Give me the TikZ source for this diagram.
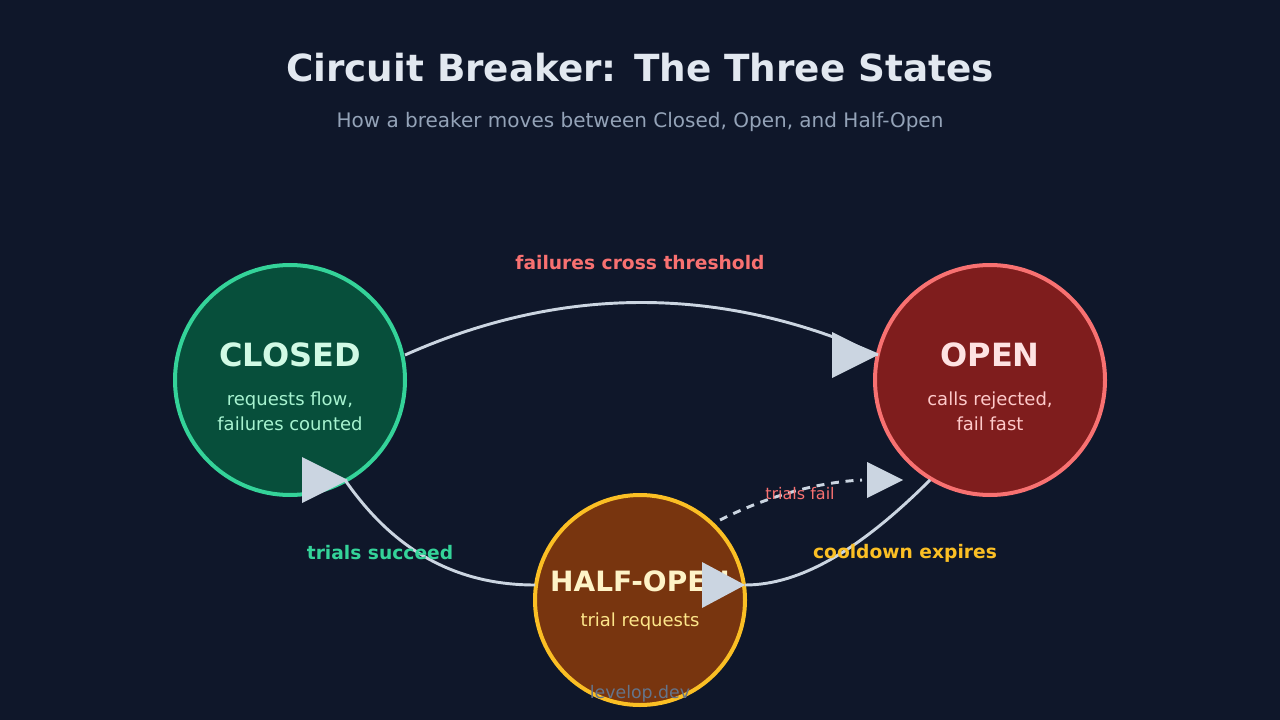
\documentclass[tikz,border=0pt]{standalone}
\usepackage{fontspec}
\setmainfont{DejaVu Sans}
\begin{document}
\begin{tikzpicture}[x=0.75pt,y=-0.75pt,
  st/.style={circle,minimum size=#1,inner sep=0pt,line width=3pt},
  conn/.style={draw=cbd,line width=2.2pt},
  tip/.style={fill=cbd},
  lbl/.style={font=\bfseries\fontsize{14}{16}\selectfont}]
\definecolor{bg}{HTML}{0F172A}
\definecolor{cbd}{HTML}{CBD5E1}
\fill[bg] (0,0) rectangle (1280,720);
\useasboundingbox (0,0) rectangle (1280,720);
\node[text=white!88!blue, font=\bfseries\fontsize{28}{32}\selectfont, text={rgb,255:red,226;green,232;blue,240}] (title) at (640,68) {Circuit Breaker: The Three States};
\node[font=\fontsize{15}{18}\selectfont, text={rgb,255:red,148;green,163;blue,184}] (sub) at (640,122) {How a breaker moves between Closed, Open, and Half-Open};
\definecolor{cf}{HTML}{074F3B}\definecolor{cb}{HTML}{34D399}
\definecolor{of}{HTML}{7F1D1D}\definecolor{ob}{HTML}{F87171}
\definecolor{hf}{HTML}{78350F}\definecolor{hb}{HTML}{FBBF24}
\node[st=172.5pt,fill=cf,draw=cb] (closed) at (290,380) {};
\node[st=172.5pt,fill=of,draw=ob] (open) at (990,380) {};
\node[st=157.5pt,fill=hf,draw=hb] (half) at (640,600) {};
\node[font=\bfseries\fontsize{24}{28}\selectfont,text={rgb,255:red,209;green,250;blue,229}] (ct) at (290,355) {CLOSED};
\node[font=\fontsize{13.5}{19}\selectfont,text={rgb,255:red,167;green,243;blue,208},align=center] (cs) at (290,411) {requests flow,\\failures counted};
\node[font=\bfseries\fontsize{24}{28}\selectfont,text={rgb,255:red,254;green,226;blue,226}] (ot) at (990,355) {OPEN};
\node[font=\fontsize{13.5}{19}\selectfont,text={rgb,255:red,254;green,202;blue,202},align=center] (os) at (990,411) {calls rejected,\\fail fast};
\node[font=\bfseries\fontsize{21}{24}\selectfont,text={rgb,255:red,254;green,243;blue,199}] (ht) at (640,581) {HALF-OPEN};
\node[font=\fontsize{13.5}{16}\selectfont,text={rgb,255:red,253;green,230;blue,138}] (hs) at (640,622) {trial requests};
\coordinate (a1) at (405,355); \coordinate (a2) at (878,355);
\coordinate (b1) at (930,480); \coordinate (b2) at (745,585);
\coordinate (c1) at (535,585); \coordinate (c2) at (345,480);
\coordinate (d1) at (720,520); \coordinate (d2) at (862,480);
\draw[conn] (a1) .. controls (562,285) and (721,285) .. (a2);
\draw[conn] (b1) .. controls (860,550) and (800,585) .. (b2);
\draw[conn] (c1) .. controls (450,585) and (390,545) .. (c2);
\draw[conn,dash pattern=on 6pt off 5pt] (d1) .. controls (770,495) and (820,482) .. (d2);
\fill[tip] (a2) -- ++(-46,-23) -- ++(0,46) -- cycle;
\fill[tip] (b2) -- ++(-43,-23) -- ++(0,46) -- cycle;
\fill[tip] (348,480) -- ++(-46,-23) -- ++(0,46) -- cycle;
\fill[tip] (903,480) -- ++(-36,-18) -- ++(0,36) -- cycle;
\node[lbl,text={rgb,255:red,248;green,113;blue,113}] (l1) at (640,263) {failures cross threshold};
\node[lbl,text=cb] (l2) at (380,553) {trials succeed};
\node[lbl,text=hb] (l3) at (905,553) {cooldown expires};
\node[font=\fontsize{12}{14}\selectfont,text=ob] (l4) at (800,494) {trials fail};
\node[font=\fontsize{13}{15}\selectfont,text={rgb,255:red,100;green,116;blue,139}] (wm) at (640,694) {levelop.dev};
\end{tikzpicture}
\end{document}
